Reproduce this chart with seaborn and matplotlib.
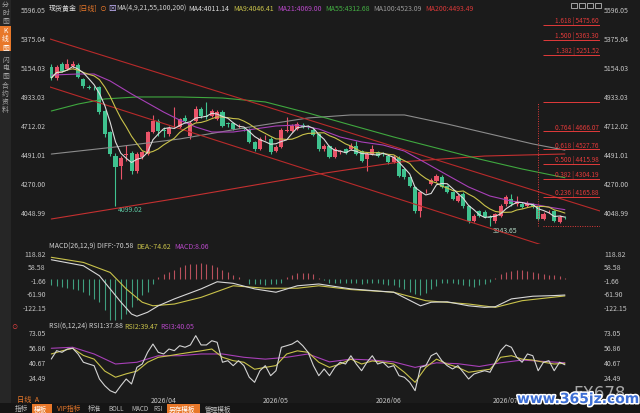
import numpy as np
import pandas as pd
import matplotlib
matplotlib.use("Agg")
import matplotlib.pyplot as plt
import matplotlib.patheffects as pe
from matplotlib.patches import Rectangle
import seaborn as sns

# ---------------- data (daily spot gold candles) ----------------
opens = [5156, 5073, 5179, 5141, 5165, 5172, 5065, 5004, 4996, 5004,
         4821, 4661, 4478, 4402, 4485, 4501, 4364, 4470, 4493, 4661,
         4745, 4672, 4646, 4720, 4699, 4768, 4631, 4745, 4836, 4778,
         4783, 4760, 4813, 4725, 4730, 4705, 4686, 4676, 4585, 4531,
         4620, 4608, 4516, 4547, 4669, 4669, 4684, 4714, 4700, 4676,
         4646, 4531, 4554, 4470, 4508, 4531, 4531, 4554, 4516, 4455,
         4493, 4509, 4495, 4478, 4432, 4463, 4379, 4318, 4242, 4059,
         4210, 4265, 4288, 4318, 4250, 4204, 4135, 4189, 4097, 3983,
         4059, 4055, 4008, 3983, 4021, 4112, 4150, 4112, 4112, 4097,
         4100, 4089, 3998, 4050, 4059, 3975, 4005]
closes = [5073, 5156, 5126, 5179, 5179, 5080, 5012, 5000, 4993, 4813,
          4646, 4493, 4394, 4463, 4493, 4364, 4493, 4509, 4661, 4745,
          4669, 4669, 4692, 4722, 4760, 4745, 4730, 4836, 4783, 4775,
          4821, 4813, 4707, 4722, 4684, 4707, 4684, 4585, 4531, 4608,
          4623, 4509, 4547, 4676, 4672, 4707, 4722, 4699, 4698, 4638,
          4531, 4554, 4470, 4531, 4510, 4501, 4554, 4493, 4440, 4493,
          4531, 4478, 4493, 4432, 4470, 4326, 4318, 4250, 4059, 4204,
          4212, 4295, 4326, 4242, 4204, 4150, 4173, 4097, 3983, 4021,
          4021, 4013, 4006, 4036, 4097, 4166, 4112, 4127, 4089, 4120,
          4097, 3998, 4036, 4051, 3983, 4013, 4003]
highs = [5180, 5175, 5195, 5215, 5205, 5185, 5075, 5020, 5010, 5010,
         4830, 4670, 4500, 4480, 4560, 4520, 4510, 4520, 4670, 4790,
         4760, 4700, 4710, 4850, 4770, 4790, 4745, 4860, 4850, 4890,
         4835, 4830, 4830, 4740, 4740, 4720, 4700, 4690, 4595, 4620,
         4640, 4620, 4560, 4690, 4775, 4720, 4735, 4730, 4715, 4690,
         4650, 4570, 4565, 4545, 4525, 4540, 4575, 4590, 4525, 4505,
         4560, 4520, 4510, 4490, 4485, 4475, 4390, 4325, 4250, 4215,
         4230, 4310, 4340, 4330, 4260, 4215, 4185, 4200, 4105, 4035,
         4070, 4065, 4030, 4045, 4110, 4180, 4190, 4170, 4130, 4135,
         4120, 4100, 4050, 4070, 4070, 4025, 4020]
lows = [5060, 5060, 5115, 5130, 5150, 5070, 5000, 4985, 4980, 4800,
        4620, 4480, 4099.02, 4300, 4440, 4340, 4350, 4455, 4485, 4650,
        4630, 4620, 4630, 4690, 4690, 4730, 4610, 4740, 4770, 4760,
        4775, 4750, 4700, 4700, 4675, 4690, 4670, 4575, 4515, 4525,
        4600, 4490, 4505, 4540, 4660, 4660, 4675, 4690, 4685, 4630,
        4520, 4520, 4460, 4460, 4495, 4495, 4525, 4485, 4430, 4364,
        4485, 4470, 4480, 4420, 4425, 4315, 4300, 4240, 4045, 4010,
        4195, 4255, 4280, 4235, 4195, 4140, 4125, 4085, 3965, 3975,
        4010, 4005, 3943.65, 3970, 4015, 4100, 4100, 4100, 4080, 4090,
        4085, 3990, 3990, 4040, 3975, 3970, 3995]

# moving averages (candle index, price)
ma21_idx = [0, 5, 8, 11, 15, 18, 21, 24, 27, 30, 34, 38, 42, 46, 50, 54, 58, 62, 66, 70, 74, 78, 82, 86, 90, 93, 96]
ma21_val = [5095, 5103, 5103, 5050, 4951, 4882, 4813, 4752, 4699, 4661, 4661, 4684, 4707, 4714, 4684, 4623,
            4585, 4562, 4516, 4425, 4333, 4242, 4173, 4135, 4112, 4089, 4069.00]
ma55_idx = [0, 5, 10, 16, 24, 32, 40, 48, 56, 64, 72, 80, 88, 96]
ma55_val = [4821, 4874, 4913, 4928, 4928, 4920, 4890, 4806, 4714, 4623, 4539, 4455, 4379, 4312.68]
ma100_idx = [0, 12, 24, 36, 48, 56, 66, 74, 82, 90, 96]
ma100_val = [4493, 4547, 4608, 4692, 4768, 4791, 4791, 4722, 4646, 4570, 4523.09]
ma200_idx = [0, 24, 50, 65, 81, 96]
ma200_val = [3998, 4158, 4341, 4432, 4478, 4493.49]

# drawn channel lines (candle index, price)
upper_trend_idx = [-0.24, 102.56]
upper_trend_val = [5370, 4059]
lower_trend_idx = [-0.24, 102.56]
lower_trend_val = [5004, 3658]

# Fibonacci extension tool
fib_ratios = [1.618, 1.500, 1.382, 1.000, 0.764, 0.618, 0.500, 0.382, 0.236, 0.000]
fib_prices = [5475.60, 5363.30, 5251.52, 4889.00, 4666.07, 4527.76, 4415.98, 4304.19, 4165.88, 3943.65]
fib_anchor_idx = 91.0
fib_line_start_idx = 91.9

# MACD(26,12,9)
macd_hist = [-27, -31, -34, -39, -42, -49, -57, -72, -87, -102,
             -139, -184, -184, -177, -154, -124, -94, -72, -57, -19,
             10, 25, 33, 40, 55, 63, 70, 70, 75, 70,
             66, 55, 40, 33, 18, 10, 3, -21, -22, -22,
             -24, -22, -21, -18, 12, 21, 27, 30, 27, 22,
             5, -5, -15, -18, -18, -18, -15, -18, -21, -18,
             -15, -18, -21, -24, -27, -33, -45, -57, -67, -72,
             -63, -45, -30, -18, -15, -18, -21, -24, -30, -33,
             -27, -21, -12, 7, 22, 33, 37, 40, 40, 37,
             33, 30, 25, 21, 18, 15, 8.06]
diff_idx = [0, 6, 9, 11, 13, 15, 16, 18, 20, 23, 28, 31, 34, 38, 42, 46, 50, 56, 64, 69, 71, 74, 78, 81, 83, 86, 90, 94, 96]
diff_val = [88, 61, 16, -43, -102, -156, -166, -148, -119, -88, -43, -11, -18, -43, -58, -29, -21, -43, -58,
            -119, -103, -101, -119, -126, -123, -88, -76, -73, -70.58]
dea_idx = [0, 6, 11, 14, 17, 19, 23, 28, 34, 40, 46, 50, 56, 64, 70, 78, 83, 88, 96]
dea_val = [99, 76, 31, -43, -103, -119, -111, -81, -29, -40, -40, -29, -46, -58, -96, -111, -126, -96, -74.62]

# RSI(6,12,24)
rsi1 = [44.1, 53.2, 51.4, 55.0, 55.8, 49.6, 40.6, 38.7, 36.9, 22.4,
        15.1, 9.7, 7.2, 15.1, 22.4, 17.0, 35.1, 38.7, 51.4, 60.4,
        51.4, 49.6, 55.0, 53.2, 58.6, 56.9, 59.4, 69.5, 59.4, 59.4,
        64.0, 62.3, 40.6, 42.3, 36.9, 42.3, 36.9, 24.3, 18.8, 31.4,
        36.9, 26.0, 31.4, 56.9, 58.6, 60.4, 64.0, 58.6, 51.4, 36.9,
        26.0, 33.3, 26.0, 35.1, 40.6, 38.7, 47.7, 38.7, 31.4, 40.6,
        47.7, 38.7, 40.6, 35.1, 36.9, 26.0, 24.3, 18.8, 9.7, 35.1,
        36.9, 47.7, 50.7, 42.3, 36.9, 33.3, 36.9, 29.7, 22.4, 27.8,
        29.7, 31.4, 29.7, 40.6, 53.2, 59.4, 56.9, 46.0, 40.6, 49.6,
        47.7, 31.4, 40.6, 42.3, 31.4, 40.6, 37.88]
rsi2_idx = list(range(0, 97, 2))
rsi2_val = [49.6, 53, 55.8, 48, 44, 31, 24.3, 28, 31, 40.6, 46, 47.7, 49.6, 51.4, 53, 55, 46, 42.3, 40.6, 33,
            35, 37, 49.6, 53, 51.4, 40.6, 35, 38.7, 44, 38.7, 42, 40.6, 38.7, 29.7, 18.8, 35, 44, 38.7, 35,
            29.7, 31.4, 33, 46, 47.7, 44, 43, 40.6, 38.7, 39.47]
rsi3_idx = list(range(0, 97, 4))
rsi3_val = [55.8, 56.9, 49.6, 38.7, 40.6, 47.7, 47.7, 49.6, 49.6, 46, 44, 46, 49.6, 41, 44, 43, 41, 35, 40,
            39, 36, 40, 43, 41.5, 40.05]

price_ticks = [5596.05, 5375.04, 5154.03, 4933.03, 4712.02, 4491.01, 4270.00, 4048.99]
macd_ticks = [118.82, 58.58, -1.66, -61.90, -122.15]
rsi_ticks = [73.05, 56.86, 40.67, 24.49]
month_labels = ['2026/04', '2026/05', '2026/06', '2026/07']
month_start_idx = [21, 42, 63, 85]

# ---------------- style ----------------
BG = '#1b1b1b'
TXT = '#c4c4c4'
UP, DN = '#ea5469', '#3fc28f'
C_MA4, C_MA9, C_MA21 = '#dcdcdc', '#c9c24a', '#a840b8'
C_MA55, C_MA100, C_MA200 = '#3fa83f', '#8c8c8c', '#c43030'
TREND = '#b82a2a'
FIB = '#e23a3a'
ORANGE = '#e8782a'

sns.set_theme(style="dark", rc={
    'axes.facecolor': BG, 'figure.facecolor': BG, 'axes.edgecolor': BG,
    'axes.grid': False, 'text.color': TXT, 'xtick.color': TXT, 'ytick.color': TXT,
})
plt.rcParams['font.family'] = ['Noto Sans CJK SC', 'DejaVu Sans']
plt.rcParams['axes.unicode_minus'] = False

W, H = 640, 414
fig = plt.figure(figsize=(6.4, 4.14), dpi=100)


def rect(top, bottom, left=50, right=600):
    return [left / W, 1 - bottom / H, (right - left) / W, (bottom - top) / H]


def ftext(x, y, s, **kw):
    kw.setdefault('va', 'center')
    kw.setdefault('fontsize', 5)
    return fig.text(x / W, 1 - y / H, s, **kw)


ax_p = fig.add_axes(rect(6, 245))
ax_m = fig.add_axes(rect(249, 324))
ax_r = fig.add_axes(rect(330, 396))

for ax in (ax_p, ax_m, ax_r):
    ax.set_facecolor(BG)
    for s in ax.spines.values():
        s.set_visible(False)
    ax.grid(False)
    ax.set_xlim(-0.24, 102.56)
    ax.tick_params(axis='y', left=True, right=True, labelleft=True, labelright=True,
                   length=0, labelsize=5, pad=3, colors=TXT)
    ax.set_xlabel('')
    ax.set_ylabel('')

# ---------------- price panel ----------------
n = len(closes)
idx = np.arange(n)
o = np.array(opens, float)
c = np.array(closes, float)
hi = np.array(highs, float)
lo = np.array(lows, float)
cols = np.where(c >= o, UP, DN)
ax_p.vlines(idx, lo, hi, colors=cols, linewidth=0.8, zorder=2)
body = np.maximum(np.abs(c - o), 5)
ax_p.bar(idx, body, bottom=np.minimum(o, c), width=0.76, color=cols, linewidth=0, zorder=3)

df = pd.DataFrame({'i': idx, 'close': c})
df['ma4'] = df['close'].rolling(4, min_periods=1).mean()
df['ma9'] = df['close'].rolling(9, min_periods=1).mean()

kw = dict(ax=ax_p, estimator=None, sort=False, legend=False, linewidth=0.8)
sns.lineplot(x=ma200_idx, y=ma200_val, color=C_MA200, zorder=4, **kw)
sns.lineplot(x=ma100_idx, y=ma100_val, color=C_MA100, zorder=4, **kw)
sns.lineplot(x=ma55_idx, y=ma55_val, color=C_MA55, zorder=4, **kw)
sns.lineplot(x=ma21_idx, y=ma21_val, color=C_MA21, zorder=4, **kw)
sns.lineplot(data=df, x='i', y='ma9', color=C_MA9, zorder=5, **kw)
sns.lineplot(data=df, x='i', y='ma4', color=C_MA4, zorder=5, **kw)
sns.lineplot(x=upper_trend_idx, y=upper_trend_val, color=TREND, zorder=4, **kw)
sns.lineplot(x=lower_trend_idx, y=lower_trend_val, color=TREND, zorder=4, **kw)

# Fibonacci tool
xmax = 102.56
ax_p.vlines(fib_anchor_idx, fib_prices[-1], fib_prices[3], colors=FIB, linewidth=0.7,
            linestyles=(0, (1, 1.5)), zorder=6)
for r, p in zip(fib_ratios, fib_prices):
    ls = (0, (1, 1.5)) if r == 0 else '-'
    ax_p.hlines(p, fib_line_start_idx, xmax, colors=FIB, linewidth=0.7, linestyles=ls, zorder=6)
    if r not in (0.0, 1.0):
        ax_p.annotate(f"{r:.3f} | {p:.2f}", xy=(xmax - 0.25, p), xytext=(0, 0.6),
                      textcoords='offset points', ha='right', va='bottom', fontsize=4.6,
                      color=FIB, zorder=7)

ax_p.annotate('4099.02', xy=(12, lows[12]), xytext=(1.8, -2.7), textcoords='offset points',
              ha='left', va='center', fontsize=5, color='#5cc4a0')
ax_p.annotate('3943.65', xy=(82, lows[82]), xytext=(2.2, -3.0), textcoords='offset points',
              ha='left', va='center', fontsize=5, color='#b4d8c4')

ax_p.set_ylim(3807.5, 5628.9)
ax_p.set_yticks(price_ticks)
ax_p.set_yticklabels([f"{t:.2f}" for t in price_ticks])
ax_p.set_xticks([])
ax_p.set_xlabel('')
ax_p.set_ylabel('')

# ---------------- MACD panel ----------------
hist = np.array(macd_hist, float)
hcols = np.where(hist >= 0, '#b8505c', '#3f9f7f')
ax_m.vlines(idx, 0, hist, colors=hcols, linewidth=0.8, zorder=2)
kwm = dict(ax=ax_m, estimator=None, sort=False, legend=False, linewidth=0.8)
sns.lineplot(x=dea_idx, y=dea_val, color='#c9c24a', zorder=3, **kwm)
sns.lineplot(x=diff_idx, y=diff_val, color='#d8d8d8', zorder=3, **kwm)
ax_m.set_ylim(-196.3, 140.8)
ax_m.set_yticks(macd_ticks)
ax_m.set_yticklabels([f"{t:.2f}" for t in macd_ticks])
ax_m.set_xticks([])
ax_m.set_xlabel('')
ax_m.set_ylabel('')

# ---------------- RSI panel ----------------
kwr = dict(ax=ax_r, estimator=None, sort=False, legend=False, linewidth=0.8)
sns.lineplot(x=rsi3_idx, y=rsi3_val, color='#a840b8', zorder=3, **kwr)
sns.lineplot(x=rsi2_idx, y=rsi2_val, color='#c9c24a', zorder=3, **kwr)
sns.lineplot(x=list(idx), y=rsi1, color='#d4d4d4', zorder=4, **kwr)
ax_r.set_ylim(5.0, 76.75)
ax_r.set_yticks(rsi_ticks)
ax_r.set_yticklabels([f"{t:.2f}" for t in rsi_ticks])
ax_r.set_xticks(month_start_idx)
ax_r.set_xticklabels(month_labels)
ax_r.tick_params(axis='x', length=0, labelsize=5, pad=1, colors=TXT)
ax_r.set_xlabel('')
ax_r.set_ylabel('')

# ---------------- header texts ----------------
ftext(49, 9, '现货黄金', color='#e0e0e0')
ftext(78, 9, '[日线]', color=ORANGE)
ftext(99, 9, '⊙', color=ORANGE, fontsize=5)
ftext(108, 9, '⊠', color='#c8b8ff', fontsize=5.5)
ftext(116, 9, 'MA(4,9,21,55,100,200)', color='#d0d0d0')
ftext(188, 9, 'MA4:4011.14', color=C_MA4)
ftext(233, 9, 'MA9:4046.41', color=C_MA9)
ftext(277, 9, 'MA21:4069.00', color='#b848c8')
ftext(325, 9, 'MA55:4312.68', color='#44b044')
ftext(373, 9, 'MA100:4523.09', color='#9a9a9a')
ftext(425, 9, 'MA200:4493.49', color='#d83838')
for k in range(4):
    fig.patches.append(Rectangle(((571 + 8 * k) / W, 1 - 9 / H), 5.5 / W, 5.5 / H,
                                 transform=fig.transFigure, fill=False,
                                 edgecolor='#b8b8b8', linewidth=0.6))

ftext(49, 247, 'MACD(26,12,9) DIFF:-70.58', color='#d0d0d0')
ftext(136, 247, 'DEA:-74.62', color='#c9c24a')
ftext(174, 247, 'MACD:8.06', color='#b848c8')

ftext(14.5, 327, '⊙', color='#e04040', fontsize=4.5, ha='center')
ftext(49, 327, 'RSI(6,12,24) RSI1:37.88', color='#d0d0d0')
ftext(124, 327, 'RSI2:39.47', color='#c9c24a')
ftext(160, 327, 'RSI3:40.05', color='#b848c8')

# ---------------- left sidebar ----------------
fig.patches.append(Rectangle((0, 0), 11 / W, 1, transform=fig.transFigure,
                             facecolor='#262626', edgecolor='none', zorder=0))
fig.patches.append(Rectangle((0, 1 - 52 / H), 11 / W, 25 / H, transform=fig.transFigure,
                             facecolor=ORANGE, edgecolor='none'))
sb = dict(fontsize=4.9, ha='center', linespacing=1.05)
ftext(5.5, 13, '分\n时\n图', color='#a8a8a8', **sb)
ftext(5.5, 39.5, 'K\n线\n图', color='#ffffff', **sb)
ftext(5.5, 68, '闪\n电\n图', color='#a8a8a8', **sb)
ftext(5.5, 98, '合\n约\n资\n料', color='#a8a8a8', **sb)

# ---------------- bottom bar ----------------
ftext(17, 400, '日线  A', color=ORANGE, fontsize=5.2)
fig.patches.append(Rectangle((0, 0), 1, 10 / H, transform=fig.transFigure,
                             facecolor='#151515', edgecolor='none', zorder=0))
fig.patches.append(Rectangle((32 / W, 0), 20 / W, 9.5 / H, transform=fig.transFigure,
                             facecolor=ORANGE, edgecolor='none'))
fig.patches.append(Rectangle((167 / W, 0), 33 / W, 9.5 / H, transform=fig.transFigure,
                             facecolor=ORANGE, edgecolor='none'))
ftext(15, 409.5, '指标', color='#c0c0c0', fontsize=4.8)
ftext(34, 409.5, '模板', color='#ffffff', fontsize=4.8)
ftext(57, 409.5, 'VIP指标', color=ORANGE, fontsize=4.8)
ftext(88, 409.5, '标准', color='#c0c0c0', fontsize=4.8)
ftext(108, 409.5, 'BOLL', color='#c0c0c0', fontsize=4.5)
ftext(131, 409.5, 'MACD', color='#c0c0c0', fontsize=4.5)
ftext(153, 409.5, 'RSI', color='#c0c0c0', fontsize=4.5)
ftext(169, 409.5, '另存模板', color='#ffffff', fontsize=4.8)
ftext(205, 409.5, '管理模板', color='#c0c0c0', fontsize=4.8)

# ---------------- watermark ----------------
ftext(573, 394, 'FX678', color='#d8d8d8', alpha=0.75, fontsize=12, family='DejaVu Sans')
ftext(517, 400, 'www.365jz.com', color='#3d6fd6', fontsize=10, fontweight='bold',
      family='DejaVu Sans', path_effects=[pe.withStroke(linewidth=2.2, foreground='white')])

fig.savefig('out.png', dpi=100, facecolor=BG)
